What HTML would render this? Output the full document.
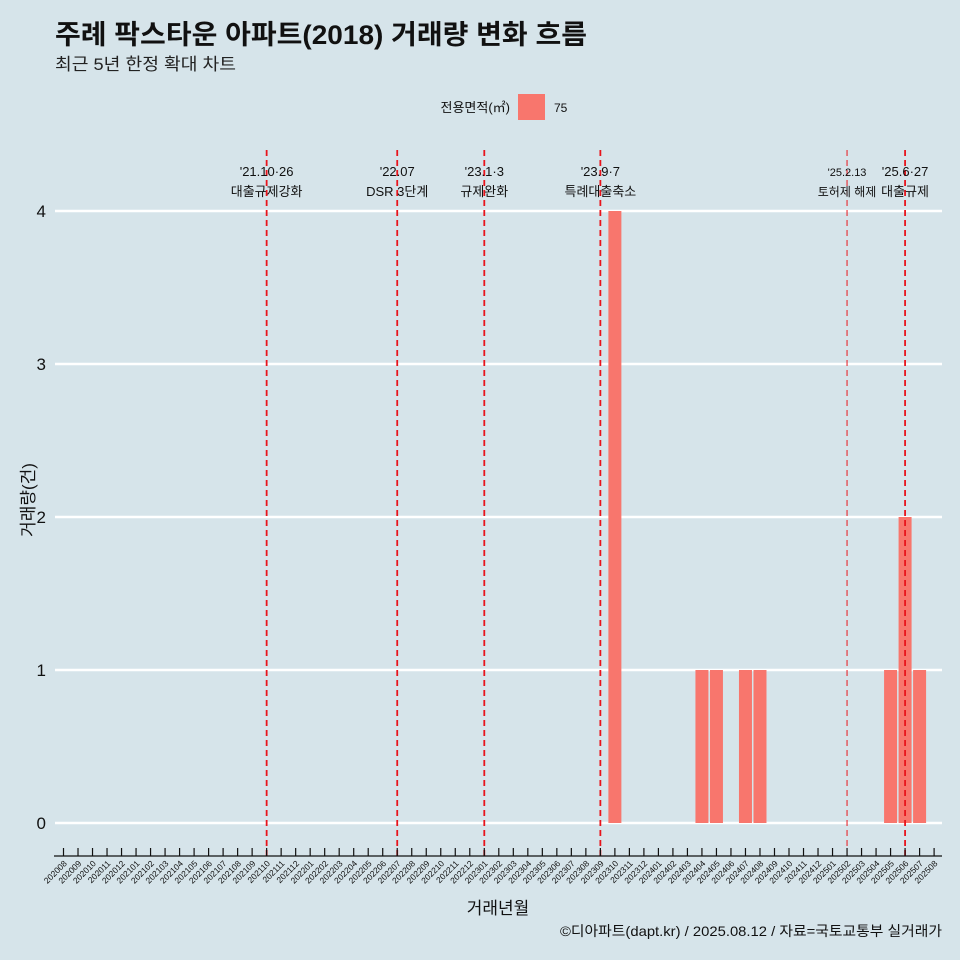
<!DOCTYPE html>
<html><head><meta charset="utf-8"><style>
html,body{margin:0;background:#d6e4ea;overflow:hidden;width:960px;height:960px;}
svg{display:block;}
svg text{font-family:"Liberation Sans","Noto Sans CJK KR",sans-serif;}
</style></head><body>
<svg width="960" height="960" id="c">
<rect width="960" height="960" fill="#d6e4ea"/>
<text x="55" y="44" font-size="27" font-weight="bold" fill="#111" textLength="532" lengthAdjust="spacingAndGlyphs">주례 팍스타운 아파트(2018) 거래량 변화 흐름</text>
<text x="55" y="70" font-size="17" fill="#222" textLength="181" lengthAdjust="spacingAndGlyphs">최근 5년 한정 확대 차트</text>
<g>
<text x="510" y="112" font-size="13" text-anchor="end" fill="#111">전용면적(㎡)</text>
<rect x="518" y="94" width="27" height="26" fill="#f8766d"/>
<text x="554" y="112" font-size="12" fill="#111">75</text>
</g>
<g id="grid"></g><g id="bars"></g><g id="events"></g><g id="xaxis"></g>
<text x="34" y="500" font-size="17" fill="#111" text-anchor="middle" transform="rotate(-90 34 500)">거래량(건)</text>
<text x="498" y="914" font-size="17" fill="#111" text-anchor="middle">거래년월</text>
<text x="942" y="936" font-size="14" fill="#111" text-anchor="end" textLength="382" lengthAdjust="spacingAndGlyphs">©디아파트(dapt.kr) / 2025.08.12 / 자료=국토교통부 실거래가</text>
</svg>
<script>
const months=[];for(let y=2020;y<=2025;y++)for(let m=1;m<=12;m++){const k=y*100+m;if(k>=202008&&k<=202508)months.push(String(k));}
const barMonths=["202310","202404","202405","202407","202408","202505","202506","202507"];
const barValues=[4,1,1,1,1,1,2,1];
const yTicks=[0,1,2,3,4];
const eventMonths=["202110","202207","202301","202309","202502","202506"];
const eventDates=["'21.10·26","'22.07","'23.1·3","'23.9·7","'25.2.13","'25.6·27"];
const eventNames=["대출규제강화","DSR 3단계","규제완화","특례대출축소","토허제 해제","대출규제"];
const NS="http://www.w3.org/2000/svg";
function x(m){return 63.5+months.indexOf(m)*14.51;}
function y(v){return 823-v*153;}
function mk(t,a,p){const e=document.createElementNS(NS,t);for(const k in a)e.setAttribute(k,a[k]);p.appendChild(e);return e;}
const g=document.getElementById('grid');
yTicks.forEach(v=>{
 const l=mk('line',{x1:55,x2:942,y1:y(v),y2:y(v),stroke:'#fff','stroke-width':2.4},g);
 
 
 const t=mk('text',{x:46,y:y(v)+6,'font-size':17,'text-anchor':'end',fill:'#111'},g);t.textContent=v;
 
 
});
const b=document.getElementById('bars');
barMonths.forEach((m,i)=>{
 const r=mk('rect',{x:x(m)-6.5,y:y(barValues[i]),width:13,height:y(0)-y(barValues[i]),fill:'#f8766d'},b);
 
 
});
const ev=document.getElementById('events');
eventMonths.forEach((m,i)=>{
 const small=m==="202502";
 const l=mk('line',{x1:x(m),x2:x(m),y1:150,y2:857,stroke:'#e8141c','stroke-width':small?1:1.8,'stroke-dasharray':'6,4'},ev);
 
 
 const t1=mk('text',{x:x(m),y:176,'font-size':small?11:13,'text-anchor':'middle',fill:'#111'},ev);t1.textContent=eventDates[i];
 
 
 const t2=mk('text',{x:x(m),y:196,'font-size':small?12:13,'text-anchor':'middle',fill:'#111'},ev);t2.textContent=eventNames[i];
 
 
});
const xa=document.getElementById('xaxis');
const al=mk('line',{x1:54,x2:942,y1:856,y2:856,stroke:'#111','stroke-width':1.2},xa);


months.forEach(m=>{
 const tk=mk('line',{x1:x(m),x2:x(m),y1:848,y2:856,stroke:'#111','stroke-width':1.2},xa);
 
 
 const t=mk('text',{x:x(m)+4,y:864,'font-size':8.5,'text-anchor':'end',fill:'#111',transform:`rotate(-45 ${x(m)+4} 864)`},xa);t.textContent=m;
 
 
});
</script>
</body></html>
